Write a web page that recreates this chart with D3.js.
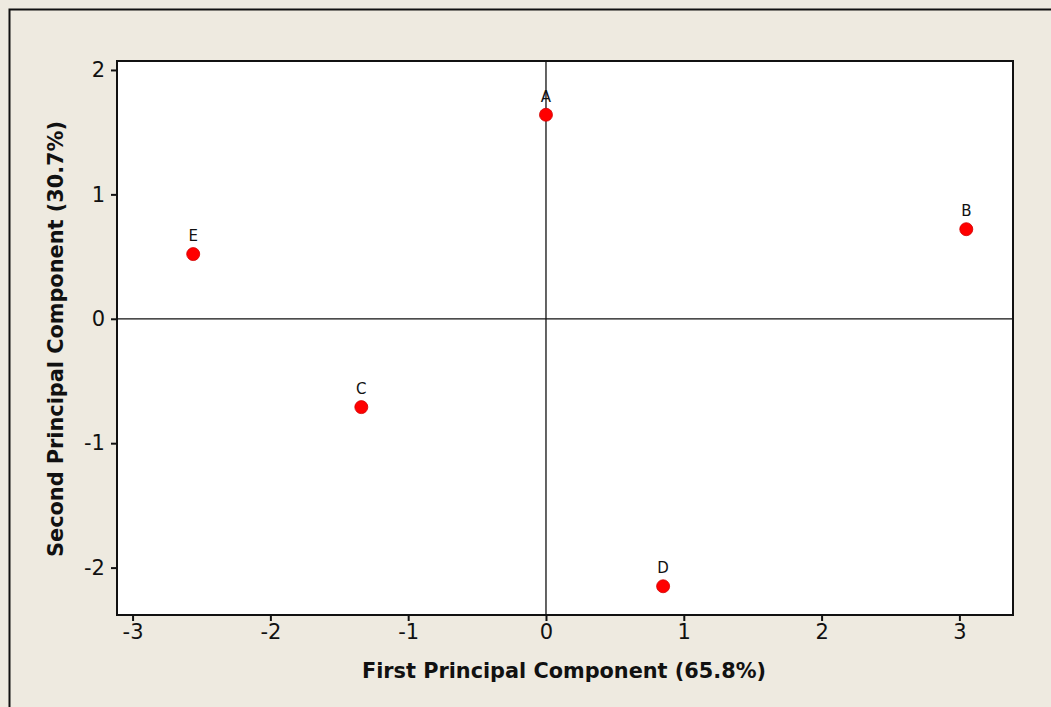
<!DOCTYPE html>
<html>
<head>
<script src="https://d3js.org/d3.v7.min.js"></script>
<style>
  body { margin: 0; background: #EEEAE0; }
  text { font-family: "DejaVu Sans", Verdana, sans-serif; fill: #111; }
  .tick text { font-size: 21px; }
  .title { font-family: "DejaVu Sans Condensed", "DejaVu Sans", sans-serif; font-size: 21px; font-weight: bold; }
  .lbl { font-size: 15px; }
</style>
</head>
<body>
<script>
var labels = ["A", "B", "C", "D", "E"];
var pc1 = [0.00, 3.05, -1.34, 0.85, -2.56];
var pc2 = [1.64, 0.72, -0.71, -2.15, 0.52];
var xTicks = [-3, -2, -1, 0, 1, 2, 3];
var yTicks = [-2, -1, 0, 1, 2];

var W = 1051, H = 707;
var pL = 117, pR = 1013, pT = 61, pB = 615;

var svg = d3.select("body").append("svg").attr("width", W).attr("height", H);

// outer frame
svg.append("rect").attr("x", 9.5).attr("y", 9.5).attr("width", W + 20).attr("height", H + 20)
  .attr("fill", "#EEEAE0").attr("stroke", "#111").attr("stroke-width", 2);

var x = d3.scaleLinear().domain([-3.113, 3.389]).range([pL, pR]);
var y = d3.scaleLinear().domain([-2.381, 2.072]).range([pB, pT]);

svg.append("rect").attr("x", pL).attr("y", pT).attr("width", pR - pL).attr("height", pB - pT)
  .attr("fill", "white").attr("stroke", "#111").attr("stroke-width", 2);

// reference lines
svg.append("line").attr("x1", x(0)).attr("x2", x(0)).attr("y1", pT).attr("y2", pB)
  .attr("stroke", "#111").attr("stroke-width", 1.3);
svg.append("line").attr("x1", pL).attr("x2", pR).attr("y1", y(0)).attr("y2", y(0))
  .attr("stroke", "#111").attr("stroke-width", 1.3);

var xAxis = svg.append("g").attr("transform", "translate(0," + (pB + 1) + ")")
  .call(d3.axisBottom(x).tickValues(xTicks).tickSize(5).tickPadding(3).tickFormat(d3.format("d")));
var yAxis = svg.append("g").attr("transform", "translate(" + (pL - 1) + ",0)")
  .call(d3.axisLeft(y).tickValues(yTicks).tickSize(5).tickPadding(6).tickFormat(d3.format("d")));
[xAxis, yAxis].forEach(function(a) {
  a.select(".domain").remove();
  a.selectAll(".tick line").attr("stroke", "#111").attr("stroke-width", 2);
  a.selectAll(".tick text").attr("fill", "#111");
});
// minus sign as hyphen
svg.selectAll(".tick text").text(function(d) { return d < 0 ? "-" + Math.abs(d) : d; });

svg.append("text").attr("class", "title").attr("x", 564).attr("y", 678).attr("text-anchor", "middle")
  .attr("textLength", 404).attr("lengthAdjust", "spacingAndGlyphs").text("First Principal Component (65.8%)");
svg.append("text").attr("class", "title").attr("transform", "translate(63,339) rotate(-90)")
  .attr("text-anchor", "middle").attr("textLength", 436).attr("lengthAdjust", "spacingAndGlyphs")
  .text("Second Principal Component (30.7%)");

var pts = labels.map(function(l, i) { return { l: l, x: pc1[i], y: pc2[i] }; });
svg.append("g").selectAll("circle").data(pts).enter().append("circle")
  .attr("cx", function(d) { return x(d.x); }).attr("cy", function(d) { return y(d.y); })
  .attr("r", 6.5).attr("fill", "#FF0000").attr("stroke", "#D00000").attr("stroke-width", 0.8);
svg.append("g").selectAll("text").data(pts).enter().append("text").attr("class", "lbl")
  .attr("x", function(d) { return x(d.x); }).attr("y", function(d) { return y(d.y) - 13; })
  .attr("text-anchor", "middle").text(function(d) { return d.l; });
</script>
</body>
</html>
